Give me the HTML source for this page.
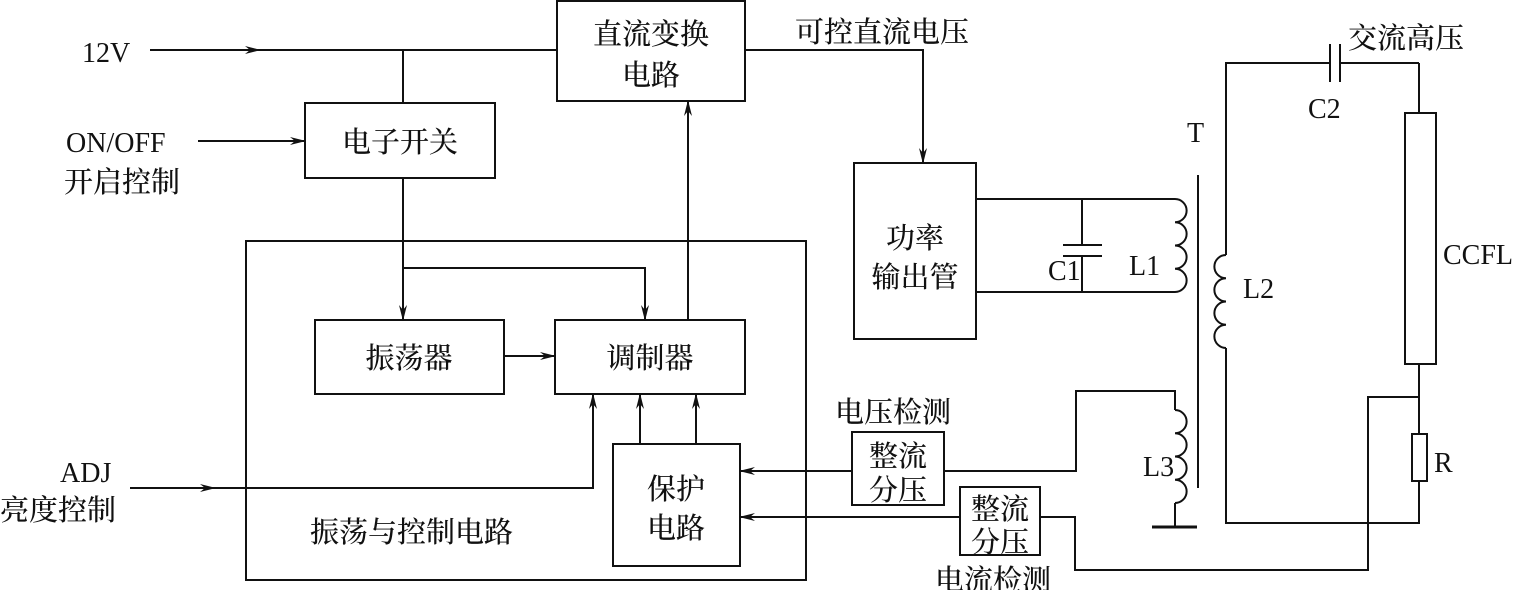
<!DOCTYPE html>
<html><head><meta charset="utf-8"><style>
body{margin:0;background:#fff;}
svg text{font-family:"Liberation Serif","Noto Serif CJK SC",serif;fill:#111;}
</style></head><body>
<svg width="1525" height="590" viewBox="0 0 1525 590" xmlns="http://www.w3.org/2000/svg">
<defs><marker id="a" markerWidth="16" markerHeight="8" refX="15" refY="4" orient="auto" markerUnits="userSpaceOnUse"><path d="M0,0 L16,4 L0,8 L5,4 Z" fill="#111"/></marker></defs>
<g stroke="#111" stroke-width="2" fill="none">
<rect x="557" y="1" width="188" height="100"/>
<rect x="305" y="103" width="190" height="75"/>
<rect x="246" y="241" width="560" height="339"/>
<rect x="315" y="320" width="189" height="74"/>
<rect x="555" y="320" width="190" height="74"/>
<rect x="613" y="444" width="127" height="122"/>
<rect x="854" y="163" width="122" height="176"/>
<rect x="852" y="432" width="92" height="73"/>
<rect x="960" y="487" width="80" height="68"/>
<rect x="1405" y="113" width="31" height="251"/>
<rect x="1412" y="434" width="15" height="47"/>
<line x1="150" y1="50" x2="557" y2="50"/>
<line x1="150" y1="50" x2="260" y2="50" marker-end="url(#a)"/>
<line x1="403" y1="50" x2="403" y2="103"/>
<line x1="198" y1="141" x2="305" y2="141" marker-end="url(#a)"/>
<line x1="403" y1="178" x2="403" y2="320" marker-end="url(#a)"/>
<polyline points="403,268 645,268 645,320" marker-end="url(#a)"/>
<line x1="504" y1="356" x2="555" y2="356" marker-end="url(#a)"/>
<line x1="688" y1="320" x2="688" y2="101" marker-end="url(#a)"/>
<line x1="130" y1="488" x2="215" y2="488" marker-end="url(#a)"/>
<polyline points="200,488 593,488 593,394" marker-end="url(#a)"/>
<line x1="640" y1="444" x2="640" y2="394" marker-end="url(#a)"/>
<line x1="696" y1="444" x2="696" y2="394" marker-end="url(#a)"/>
<line x1="852" y1="471" x2="740" y2="471" marker-end="url(#a)"/>
<line x1="960" y1="517" x2="740" y2="517" marker-end="url(#a)"/>
<polyline points="745,50 923,50 923,163" marker-end="url(#a)"/>
<polyline points="976,199 1175,199"/>
<polyline points="976,292 1175,292"/>
<line x1="1082" y1="199" x2="1082" y2="245"/>
<line x1="1082" y1="256" x2="1082" y2="292"/>
<line x1="1063" y1="245" x2="1102" y2="245"/>
<line x1="1063" y1="256" x2="1102" y2="256"/>
<path d="M1175,199 a11.6,11.6 0 0 1 0,23.25 a11.6,11.6 0 0 1 0,23.25 a11.6,11.6 0 0 1 0,23.25 a11.6,11.6 0 0 1 0,23.25"/>
<line x1="1198" y1="175" x2="1198" y2="488"/>
<polyline points="1226,255 1226,63 1330,63"/>
<line x1="1340" y1="63" x2="1419" y2="63"/>
<line x1="1330" y1="44" x2="1330" y2="82"/>
<line x1="1340" y1="44" x2="1340" y2="82"/>
<line x1="1419" y1="63" x2="1419" y2="113"/>
<path d="M1226,255 a11.6,11.6 0 0 0 0,23.25 a11.6,11.6 0 0 0 0,23.25 a11.6,11.6 0 0 0 0,23.25 a11.6,11.6 0 0 0 0,23.25"/>
<polyline points="1226,348 1226,523 1419,523 1419,481"/>
<line x1="1419" y1="364" x2="1419" y2="434"/>
<polyline points="1419,397 1368,397 1368,570 1075,570 1075,517 1040,517"/>
<polyline points="944,471 1076,471 1076,391 1175,391 1175,410"/>
<path d="M1175,410 a11.6,11.6 0 0 1 0,23.25 a11.6,11.6 0 0 1 0,23.25 a11.6,11.6 0 0 1 0,23.25 a11.6,11.6 0 0 1 0,23.25"/>
<line x1="1175" y1="503" x2="1175" y2="527"/>
<line x1="1152" y1="527" x2="1197" y2="527" stroke-width="3"/>
</g>
<g font-size="29" font-weight="500">
<text x="82" y="62" font-size="28">12V</text>
<text x="651" y="44" text-anchor="middle">直流变换</text>
<text x="651" y="85" text-anchor="middle">电路</text>
<text x="400" y="152" text-anchor="middle">电子开关</text>
<text x="66" y="152" font-size="28">ON/OFF</text>
<text x="64" y="192">开启控制</text>
<text x="409" y="368" text-anchor="middle">振荡器</text>
<text x="650" y="368" text-anchor="middle">调制器</text>
<text x="60" y="482" font-size="28">ADJ</text>
<text x="0" y="520">亮度控制</text>
<text x="310" y="542">振荡与控制电路</text>
<text x="676" y="499" text-anchor="middle">保护</text>
<text x="676" y="538" text-anchor="middle">电路</text>
<text x="795" y="42">可控直流电压</text>
<text x="915" y="248" text-anchor="middle">功率</text>
<text x="915" y="287" text-anchor="middle">输出管</text>
<text x="1048" y="280" font-size="28">C1</text>
<text x="1129" y="275" font-size="28">L1</text>
<text x="1187" y="142" font-size="28">T</text>
<text x="1243" y="298" font-size="28">L2</text>
<text x="1308" y="118" font-size="28">C2</text>
<text x="1348" y="48">交流高压</text>
<text x="1443" y="264" font-size="28">CCFL</text>
<text x="1434" y="472" font-size="28">R</text>
<text x="1143" y="476" font-size="28">L3</text>
<text x="835" y="422">电压检测</text>
<text x="898" y="466" text-anchor="middle">整流</text>
<text x="898" y="500" text-anchor="middle">分压</text>
<text x="1000" y="519" text-anchor="middle">整流</text>
<text x="1000" y="552" text-anchor="middle">分压</text>
<text x="935" y="590">电流检测</text>
</g>
</svg>
</body></html>
